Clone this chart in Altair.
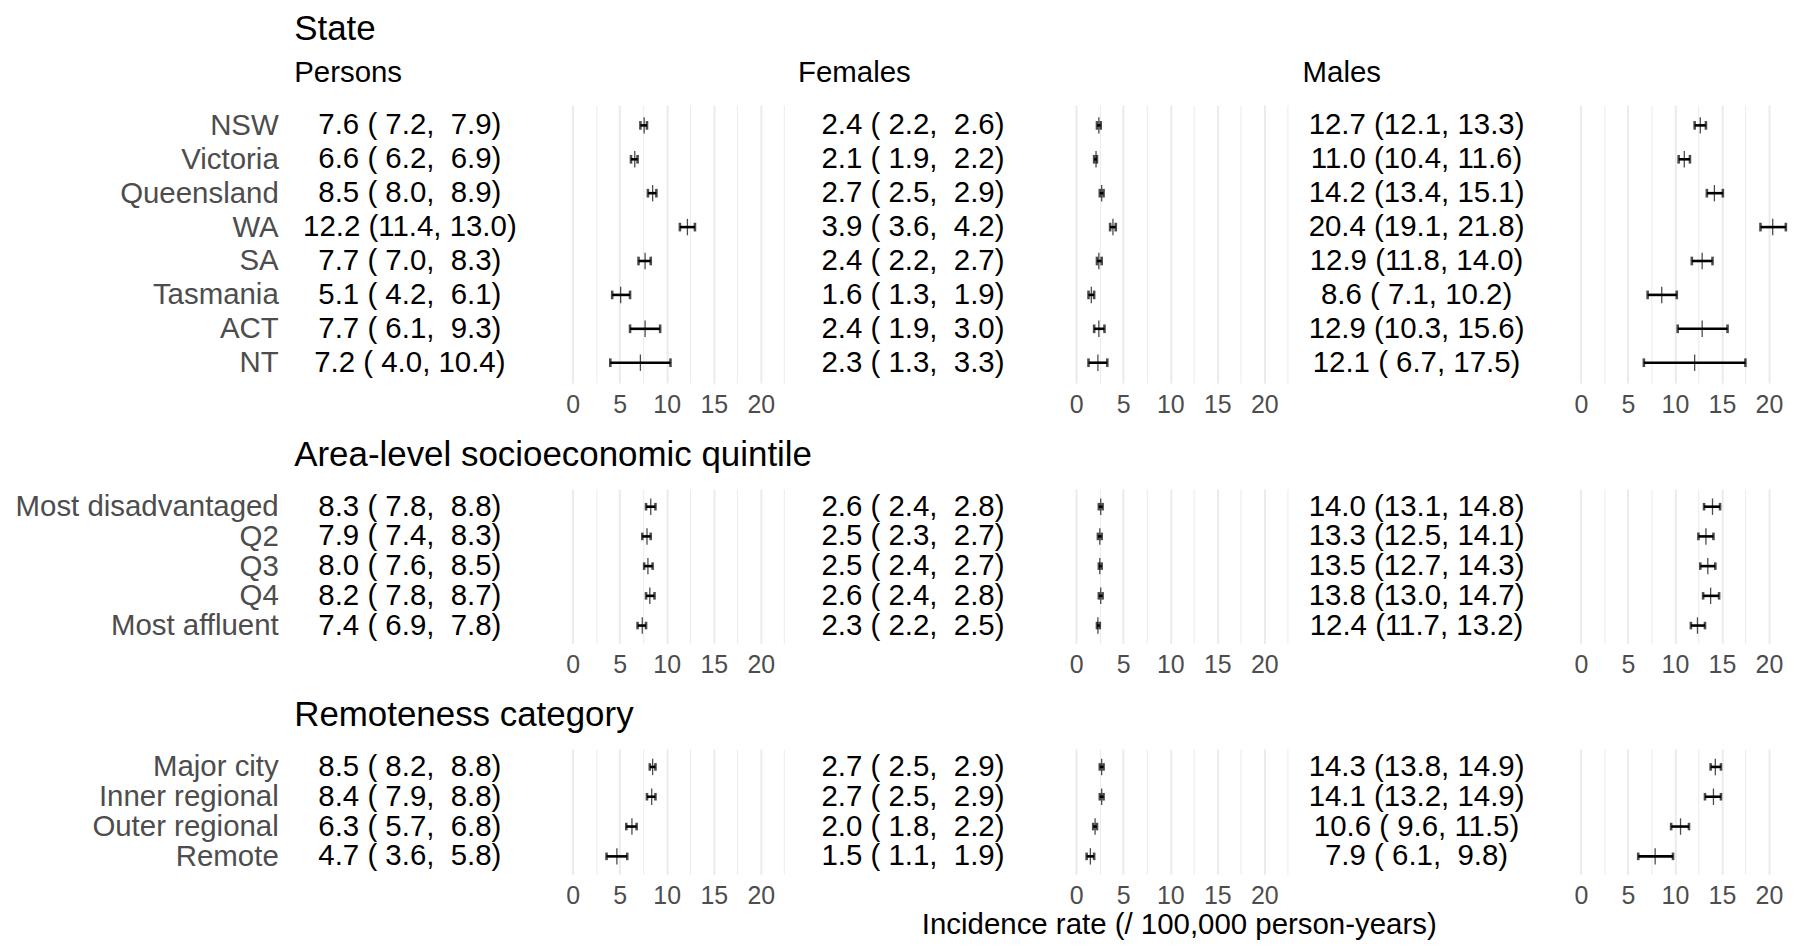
import altair as alt
import pandas as pd

FONT = "Liberation Sans"
GREY = "#4D4D4D"

# ---------------- data ----------------
state_cats = ["NSW", "Victoria", "Queensland", "WA", "SA", "Tasmania", "ACT", "NT"]
state_persons_est = [7.6, 6.6, 8.5, 12.2, 7.7, 5.1, 7.7, 7.2]
state_persons_lo = [7.2, 6.2, 8.0, 11.4, 7.0, 4.2, 6.1, 4.0]
state_persons_hi = [7.9, 6.9, 8.9, 13.0, 8.3, 6.1, 9.3, 10.4]
state_females_est = [2.4, 2.1, 2.7, 3.9, 2.4, 1.6, 2.4, 2.3]
state_females_lo = [2.2, 1.9, 2.5, 3.6, 2.2, 1.3, 1.9, 1.3]
state_females_hi = [2.6, 2.2, 2.9, 4.2, 2.7, 1.9, 3.0, 3.3]
state_males_est = [12.7, 11.0, 14.2, 20.4, 12.9, 8.6, 12.9, 12.1]
state_males_lo = [12.1, 10.4, 13.4, 19.1, 11.8, 7.1, 10.3, 6.7]
state_males_hi = [13.3, 11.6, 15.1, 21.8, 14.0, 10.2, 15.6, 17.5]

ses_cats = ["Most disadvantaged", "Q2", "Q3", "Q4", "Most affluent"]
ses_persons_est = [8.3, 7.9, 8.0, 8.2, 7.4]
ses_persons_lo = [7.8, 7.4, 7.6, 7.8, 6.9]
ses_persons_hi = [8.8, 8.3, 8.5, 8.7, 7.8]
ses_females_est = [2.6, 2.5, 2.5, 2.6, 2.3]
ses_females_lo = [2.4, 2.3, 2.4, 2.4, 2.2]
ses_females_hi = [2.8, 2.7, 2.7, 2.8, 2.5]
ses_males_est = [14.0, 13.3, 13.5, 13.8, 12.4]
ses_males_lo = [13.1, 12.5, 12.7, 13.0, 11.7]
ses_males_hi = [14.8, 14.1, 14.3, 14.7, 13.2]

rem_cats = ["Major city", "Inner regional", "Outer regional", "Remote"]
rem_persons_est = [8.5, 8.4, 6.3, 4.7]
rem_persons_lo = [8.2, 7.9, 5.7, 3.6]
rem_persons_hi = [8.8, 8.8, 6.8, 5.8]
rem_females_est = [2.7, 2.7, 2.0, 1.5]
rem_females_lo = [2.5, 2.5, 1.8, 1.1]
rem_females_hi = [2.9, 2.9, 2.2, 1.9]
rem_males_est = [14.3, 14.1, 10.6, 7.9]
rem_males_lo = [13.8, 13.2, 9.6, 6.1]
rem_males_hi = [14.9, 14.9, 11.5, 9.8]

sections = [
    ("State", state_cats,
     [(state_persons_est, state_persons_lo, state_persons_hi),
      (state_females_est, state_females_lo, state_females_hi),
      (state_males_est, state_males_lo, state_males_hi)]),
    ("Area-level socioeconomic quintile", ses_cats,
     [(ses_persons_est, ses_persons_lo, ses_persons_hi),
      (ses_females_est, ses_females_lo, ses_females_hi),
      (ses_males_est, ses_males_lo, ses_males_hi)]),
    ("Remoteness category", rem_cats,
     [(rem_persons_est, rem_persons_lo, rem_persons_hi),
      (rem_females_est, rem_females_lo, rem_females_hi),
      (rem_males_est, rem_males_lo, rem_males_hi)]),
]
sex_names = ["Persons", "Females", "Males"]
x_title = "Incidence rate (/ 100,000 person-years)"

# ---------------- layout ----------------
STEP = [34.0, 29.8, 29.9]
CAP = [8.7, 7.6, 7.6]
TEXT_W = [268.7, 277.9, 278.7]
TEXT_X = [116, 124.5, 124.5]
HEADER_DX = [0, 9.2, 10.2]
PLOT_DOM = [[-1.09, 22.89], [-1.09, 22.89], [-1.09, 21.7]]
PX_PER_UNIT = 9.43
GRID_VALS = [0, 2.5, 5, 7.5, 10, 12.5, 15, 17.5, 20, 22.5]


def fmt(v):
    return f"{v:4.1f}"


def make_df(cats, est, lo, hi):
    return pd.DataFrame({
        "cat": cats, "est": est, "lo": lo, "hi": hi,
        "label": [(f"{fmt(e)} ({fmt(l)}, {fmt(h)})").replace(" ", "\u00a0")
                  for e, l, h in zip(est, lo, hi)],
    })


def text_panel(df, cats, height, j, show_labels, title):
    if show_labels:
        ax = alt.Axis(title=None, domain=False, ticks=False, grid=False,
                      labelPadding=16, labelFontSize=29.5, labelColor=GREY,
                      labelFont=FONT, labelLimit=0)
    else:
        ax = None
    ch = alt.Chart(df).mark_text(
        align="center", baseline="middle", fontSize=29.5, font=FONT, color="black"
    ).encode(
        y=alt.Y("cat:N", sort=cats, scale=alt.Scale(type="point", padding=0.6), axis=ax),
        x=alt.value(TEXT_X[j]),
        text="label:N",
    )
    props = dict(width=TEXT_W[j], height=height)
    if title is not None:
        props["title"] = title
    return ch.properties(**props)


def plot_panel(df, cats, height, j, cap, xtitle):
    dom = PLOT_DOM[j]
    width = (dom[1] - dom[0]) * PX_PER_UNIT
    vals = [v for v in GRID_VALS if v <= dom[1]]
    axis_kw = dict(
        values=vals,
        labelExpr="datum.value % 5 === 0 ? datum.label : ''",
        grid=True, gridColor="#EBEBEB",
        gridWidth={"condition": {"test": "datum.value % 5 === 0", "value": 2}, "value": 1},
        domain=False, ticks=False, tickSize=0,
        labelFontSize=25, labelColor=GREY, labelFont=FONT, labelPadding=9.6,
    )
    if xtitle:
        axis_kw.update(title=xtitle, titleFontSize=29.5, titleFont=FONT,
                       titleFontWeight="normal", titleColor="black",
                       titleBaseline="alphabetic", titleY=59)
    else:
        axis_kw.update(title=None)
    xaxis = alt.Axis(**axis_kw)
    xscale = alt.Scale(domain=dom, nice=False, zero=False)
    y = alt.Y("cat:N", sort=cats, scale=alt.Scale(type="point", padding=0.6), axis=None)
    base = alt.Chart(df)
    rule = base.mark_rule(color="black", strokeWidth=2.6).encode(
        x=alt.X("lo:Q", scale=xscale, axis=xaxis), x2="hi:Q", y=y)
    caps = base.transform_fold(["lo", "hi"], as_=["k", "v"]).mark_tick(
        color="black", size=cap, thickness=2.6).encode(
        x=alt.X("v:Q", scale=xscale, axis=xaxis), y=y)
    est = base.mark_tick(color="black", size=16.5, thickness=1.3).encode(
        x=alt.X("est:Q", scale=xscale, axis=xaxis), y=y)
    return alt.layer(rule, caps, est).properties(width=width, height=height)


panels = []
for s, (sec_title, cats, series) in enumerate(sections):
    n = len(cats)
    height = STEP[s] * (n - 1 + 1.2)
    for j, (est, lo, hi) in enumerate(series):
        df = make_df(cats, est, lo, hi)
        title = None
        if s == 0:
            if j == 0:
                title = alt.TitleParams(
                    text=sec_title, subtitle=sex_names[0], anchor="start", frame="group",
                    fontSize=35, font=FONT, fontWeight="normal", color="black",
                    subtitleFontSize=29.5, subtitleFont=FONT, subtitleFontWeight="normal",
                    subtitleColor="black", subtitlePadding=12.4, offset=17.1, limit=1500)
            else:
                title = alt.TitleParams(
                    text=sex_names[j], anchor="start", frame="group", dx=HEADER_DX[j],
                    fontSize=29.5, font=FONT, fontWeight="normal", color="black",
                    offset=17.1, limit=1500)
        elif j == 0:
            title = alt.TitleParams(
                text=sec_title, anchor="start", frame="group",
                fontSize=35, font=FONT, fontWeight="normal", color="black",
                offset=15.6, limit=1500)
        panels.append(text_panel(df, cats, height, j, j == 0, title))
        xt = x_title if (s == 2 and j == 1) else None
        panels.append(plot_panel(df, cats, height, j, CAP[s], xt))

chart = alt.ConcatChart(
    concat=panels, columns=6, spacing={"row": 105.9, "column": 0}, bounds="flush"
).properties(
    padding={"left": 6, "top": 3, "right": 0, "bottom": 0}
).configure_view(stroke=None).configure_axis(labelFont=FONT, titleFont=FONT)

chart.save("out.html", embed_options={"renderer": "svg", "actions": False})
